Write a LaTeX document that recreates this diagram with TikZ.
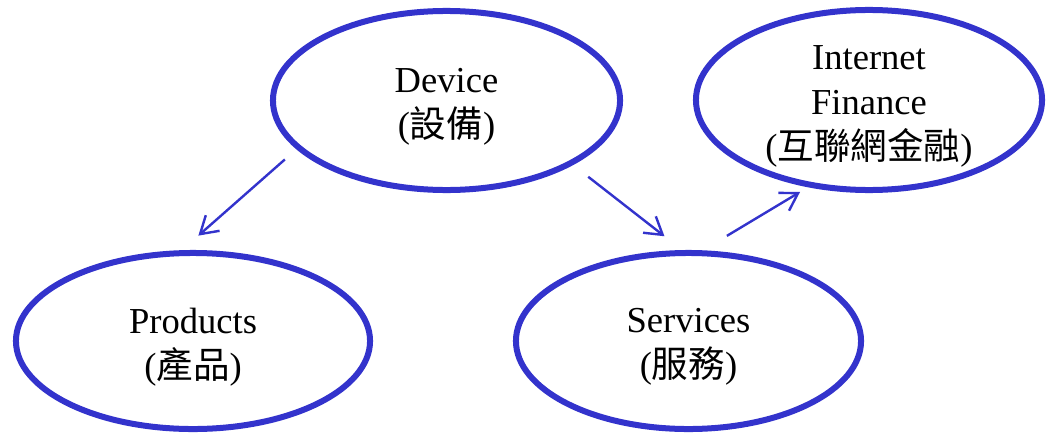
\documentclass[tikz,border=0pt]{standalone}
\usepackage{fontspec}
\setmainfont{Liberation Serif}
\newfontfamily\cjk{Noto Sans CJK TC}
\usepackage{xcolor}
\usetikzlibrary{shapes.geometric,arrows.meta}
\definecolor{ovalblue}{RGB}{51,51,204}
\tikzset{
  oval/.style={ellipse,draw=ovalblue,line width=0.15cm,inner sep=0pt},
  txt/.style={align=center,inner sep=0pt,font=\fontsize{26}{32}\selectfont},
  flow/.style={draw=ovalblue,line width=0.06cm,-{Straight Barb[length=0.42cm,width=0.52cm]}}
}

\begin{document}
\begin{tikzpicture}[x=0.025cm,y=-0.025cm]
\useasboundingbox (0,0) rectangle (1049,433);

\node[oval,minimum width=8.675cm,minimum height=4.475cm] (dev) at (446.5,100.5) {};
\node[oval,minimum width=8.65cm,minimum height=4.5cm] (fin) at (869,100) {};
\node[oval,minimum width=8.85cm,minimum height=4.4cm] (prod) at (193,341) {};
\node[oval,minimum width=8.625cm,minimum height=4.4cm] (serv) at (688.5,341) {};

\node[txt] (devtxt) at (446.5,106.5) {Device\\({\cjk 設備})};
\node[txt] (fintxt) at (869,106) {Internet\\Finance\\({\cjk 互聯網金融})};
\node[txt] (prodtxt) at (193,347) {Products\\({\cjk 產品})};
\node[txt] (servtxt) at (688.5,347) {Services\\({\cjk 服務})};

\draw[flow,shorten <=0.385cm,shorten >=0.55cm] (dev.198.9) -- (prod.97.6);
\draw[flow,shorten <=0.48cm,shorten >=0.56cm] (dev.333.8) -- (serv.94.5);
\draw[flow,shorten <=0.7cm,shorten >=0.23cm] (serv.81) -- (fin.235.4);

\end{tikzpicture}
\end{document}
